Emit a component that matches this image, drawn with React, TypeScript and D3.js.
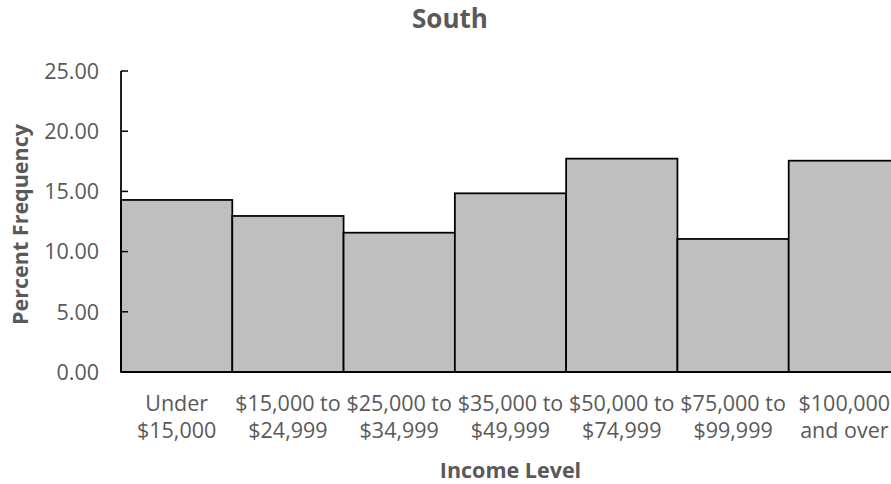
import React from "react";
import * as d3 from "d3";

const categories: string[][] = [
  ["Under", "$15,000"],
  ["$15,000 to", "$24,999"],
  ["$25,000 to", "$34,999"],
  ["$35,000 to", "$49,999"],
  ["$50,000 to", "$74,999"],
  ["$75,000 to", "$99,999"],
  ["$100,000", "and over"],
];
const values: number[] = [14.29, 12.96, 11.57, 14.84, 17.72, 11.05, 17.55];
const yTicks: number[] = [0, 5, 10, 15, 20, 25];
const title = "South";
const xTitle = "Income Level";
const yTitle = "Percent Frequency";

const W = 891;
const H = 484;
const FONT = "'Open Sans', 'Noto Sans', sans-serif";
const TXT = "#595959";

export default function App() {
  const x = d3
    .scaleBand<number>()
    .domain(categories.map((_, i) => i))
    .range([121, 900])
    .paddingInner(0)
    .paddingOuter(0);
  const y = d3.scaleLinear().domain([0, 25]).range([372, 71]);
  const fmt = d3.format(".2f");
  const plotCx = (121 + 900) / 2;

  return (
    <svg
      width={W}
      height={H}
      style={{ position: "absolute", left: 0, top: 0, background: "#fff" }}
      fontFamily={FONT}
    >
      <rect x={0} y={0} width={W} height={H} fill="#fff" />
      <text x={450} y={28} textAnchor="middle" fontSize={26} fontWeight="bold" fill={TXT}>
        {title}
      </text>
      {values.map((v, i) => (
        <rect
          key={i}
          x={x(i)!}
          y={y(v)}
          width={x.bandwidth()}
          height={y(0) - y(v)}
          fill="#bfbfbf"
          stroke="#000"
          strokeWidth={1.75}
        />
      ))}
      <line x1={121} x2={121} y1={y(25)} y2={y(0)} stroke="#000" strokeWidth={1.75} />
      <line x1={121} x2={W} y1={y(0)} y2={y(0)} stroke="#000" strokeWidth={1.75} />
      {yTicks.map((t) => (
        <g key={t}>
          <line x1={121} x2={128} y1={y(t)} y2={y(t)} stroke="#000" strokeWidth={1.5} />
          <text x={99} y={y(t)} dy="0.36em" textAnchor="end" fontSize={21.5} fill={TXT}>
            {fmt(t)}
          </text>
        </g>
      ))}
      {categories.map((c, i) => (
        <text
          key={i}
          x={x(i)! + x.bandwidth() / 2}
          textAnchor="middle"
          fontSize={21.5}
          fill={TXT}
        >
          <tspan x={x(i)! + x.bandwidth() / 2} y={410.5}>{c[0]}</tspan>
          <tspan x={x(i)! + x.bandwidth() / 2} y={438}>{c[1]}</tspan>
        </text>
      ))}
      <text x={plotCx} y={478} textAnchor="middle" fontSize={21.5} fontWeight="bold" fill={TXT}>
        {xTitle}
      </text>
      <text
        transform={`translate(28, ${(y(0) + y(25)) / 2 + 3}) rotate(-90)`}
        textAnchor="middle"
        fontSize={21.5}
        fontWeight="bold"
        fill={TXT}
      >
        {yTitle}
      </text>
    </svg>
  );
}
